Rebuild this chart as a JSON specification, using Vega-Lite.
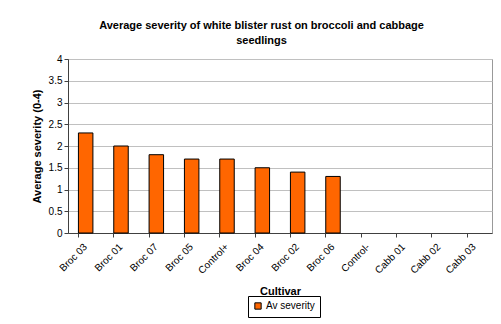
{
  "$schema": "https://vega.github.io/schema/vega-lite/v6.json",
  "width": 424,
  "height": 174,
  "autosize": {"type": "none"},
  "padding": {"left": 68, "top": 59, "right": 9, "bottom": 91},
  "background": "white",
  "title": {
    "text": ["Average severity of white blister rust on broccoli and cabbage", "seedlings"],
    "font": "Liberation Sans",
    "fontSize": 11,
    "fontWeight": "bold",
    "color": "black",
    "anchor": "middle",
    "frame": "bounds",
    "lineHeight": 15,
    "offset": 8
  },
  "data": {
    "values": [
      {"cultivar": "Broc 03", "severity": 2.3, "series": "Av severity"},
      {"cultivar": "Broc 01", "severity": 2.0, "series": "Av severity"},
      {"cultivar": "Broc 07", "severity": 1.8, "series": "Av severity"},
      {"cultivar": "Broc 05", "severity": 1.7, "series": "Av severity"},
      {"cultivar": "Control+", "severity": 1.7, "series": "Av severity"},
      {"cultivar": "Broc 04", "severity": 1.5, "series": "Av severity"},
      {"cultivar": "Broc 02", "severity": 1.4, "series": "Av severity"},
      {"cultivar": "Broc 06", "severity": 1.3, "series": "Av severity"},
      {"cultivar": "Control-", "severity": 0, "series": "Av severity"},
      {"cultivar": "Cabb 01", "severity": 0, "series": "Av severity"},
      {"cultivar": "Cabb 02", "severity": 0, "series": "Av severity"},
      {"cultivar": "Cabb 03", "severity": 0, "series": "Av severity"}
    ]
  },
  "mark": {"type": "bar", "stroke": "black", "strokeWidth": 1},
  "encoding": {
    "x": {
      "field": "cultivar",
      "type": "nominal",
      "sort": null,
      "title": "Cultivar",
      "scale": {"paddingInner": 0.59, "paddingOuter": 0.295},
      "axis": {
        "bandPosition": 0,
        "labelAngle": -45,
        "labelAlign": "right",
        "labelBaseline": "middle",
        "labelPadding": 8,
        "labelFont": "Liberation Sans",
        "labelFontSize": 10,
        "labelColor": "black",
        "tickColor": "#404040",
        "tickSize": 4,
        "domainColor": "#404040",
        "titleFont": "Liberation Sans",
        "titleFontSize": 11,
        "titleFontWeight": "bold",
        "titleColor": "black",
        "titlePadding": 10,
        "grid": false
      }
    },
    "y": {
      "field": "severity",
      "type": "quantitative",
      "title": "Average severity (0-4)",
      "scale": {"domain": [0, 4], "nice": false},
      "axis": {
        "values": [0, 0.5, 1, 1.5, 2, 2.5, 3, 3.5, 4],
        "format": "~g",
        "labelFont": "Liberation Sans",
        "labelFontSize": 10,
        "labelColor": "black",
        "labelPadding": 2,
        "tickColor": "#404040",
        "tickSize": 4,
        "domainColor": "#404040",
        "gridColor": "#c0c0c0",
        "titleFont": "Liberation Sans",
        "titleFontSize": 11,
        "titleFontWeight": "bold",
        "titleColor": "black",
        "titlePadding": 6
      }
    },
    "strokeOpacity": {
      "condition": {"test": "datum.severity == 0", "value": 0},
      "value": 1
    },
    "color": {
      "field": "series",
      "type": "nominal",
      "scale": {"range": ["#ff6600"]},
      "legend": {
        "title": null,
        "orient": "none",
        "legendX": 180,
        "legendY": 237,
        "symbolType": "square",
        "symbolSize": 40,
        "symbolStrokeColor": "black",
        "symbolStrokeWidth": 1,
        "symbolOffset": 0,
        "labelOffset": 3,
        "labelFont": "Liberation Sans",
        "labelFontSize": 10,
        "labelColor": "black",
        "strokeColor": "black",
        "padding": 5
      }
    }
  },
  "config": {"view": {"stroke": "#999999"}}
}
